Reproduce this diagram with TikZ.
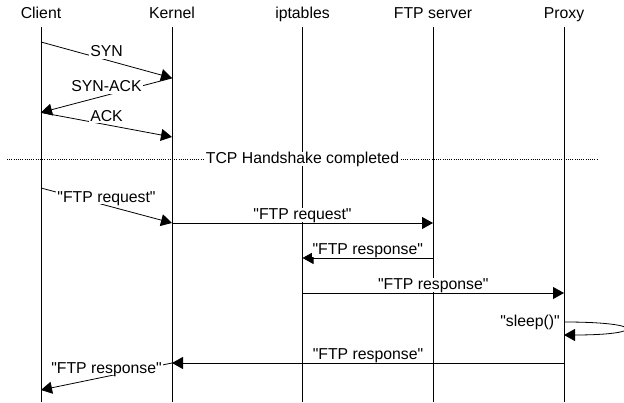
\documentclass[tikz,border=0pt]{standalone}
\usepackage{fontspec}
\setmainfont{Liberation Sans}[Ligatures=TeXOff]
\usepackage{tikz}
\usetikzlibrary{arrows.meta}
\usetikzlibrary{positioning, calc}
\tikzset{
    entity/.style = {anchor=base, inner sep=0pt},
    lifeline/.style = {draw=black, line width=0.8pt},
    msg/.style = {draw=black, line width=0.8pt,
        -{Triangle[length=11pt, width=12pt]}},
    msglabel/.style = {above=1pt, inner xsep=1pt, inner ysep=0pt,
        fill=white, text height=12pt, text depth=2pt},
    divider/.style = {draw=black, line width=0.8pt, dash pattern=on 1pt off 1.2pt},
}

\begin{document}
\begin{tikzpicture}[x=1pt, y=-1pt, font=\fontsize{15.8}{18}\selectfont]
            \useasboundingbox (0,0) rectangle (624,403);
            \node (client) [entity] at (41,18.5) {Client};
            \node (kernel) [entity] at (172,18.5) {Kernel};
            \node (iptables) [entity] at (302.5,18.5) {iptables};
            \node (ftpserver) [entity] at (433,18.5) {FTP server};
            \node (proxy) [entity] at (564,18.5) {Proxy};
            \coordinate (top) at (0,27.5);
            \coordinate (bottom) at (0,402);
            \draw [lifeline] (client |- top) -- (client |- bottom);
            \draw [lifeline] (kernel |- top) -- (kernel |- bottom);
            \draw [lifeline] (iptables |- top) -- (iptables |- bottom);
            \draw [lifeline] (ftpserver |- top) -- (ftpserver |- bottom);
            \draw [lifeline] (proxy |- top) -- (proxy |- bottom);
            % rows where the arcs start and end
            \coordinate (r0) at (0,42);
            \coordinate (r1) at (0,78);
            \coordinate (r2) at (0,112.5);
            \coordinate (r3) at (0,137);
            \coordinate (r4) at (0,188);
            \coordinate (r5) at (0,223);
            \coordinate (r6) at (0,258);
            \coordinate (r7) at (0,293);
            \coordinate (r8) at (0,322);
            \coordinate (r9) at (0,335);
            \coordinate (r10) at (0,363);
            \coordinate (r11) at (0,390);
            % handshake
            \draw [msg] (client |- r0) -- node [msglabel] {SYN} (kernel |- r1);
            \draw [msg] (kernel |- r1) -- node [msglabel] {SYN-ACK} (client |- r2);
            \draw [msg] (client |- r2) -- node [msglabel] {ACK} (kernel |- r3);
            \coordinate (hsleft) at (7,159);
            \coordinate (hsright) at (598,159);
            \draw [divider] (hsleft) -- (hsright);
            \node (handshake) [fill=white, inner xsep=1pt, inner ysep=0pt] at (iptables |- hsleft) {TCP Handshake completed};
            % ftp traffic
            \draw [msg] (client |- r4) -- node [msglabel] {"FTP request"} (kernel |- r5);
            \draw [msg] (kernel |- r5) -- node [msglabel] {"FTP request"} (ftpserver |- r5);
            \draw [msg] (ftpserver |- r6) -- node [msglabel] {"FTP response"} (iptables |- r6);
            \draw [msg] (iptables |- r7) -- node [msglabel] {"FTP response"} (proxy |- r7);
            \draw [msg] (proxy |- r8) .. controls +(82,0) and +(82,0) .. (proxy |- r9);
            \node (sleep) [left=4pt, inner sep=0pt] at (proxy |- r8) {"sleep()"};
            \draw [msg] (proxy |- r10) -- node [msglabel] {"FTP response"} (kernel |- r10);
            \draw [msg] (kernel |- r10) -- node [msglabel] {"FTP response"} (client |- r11);
\end{tikzpicture}
\end{document}
